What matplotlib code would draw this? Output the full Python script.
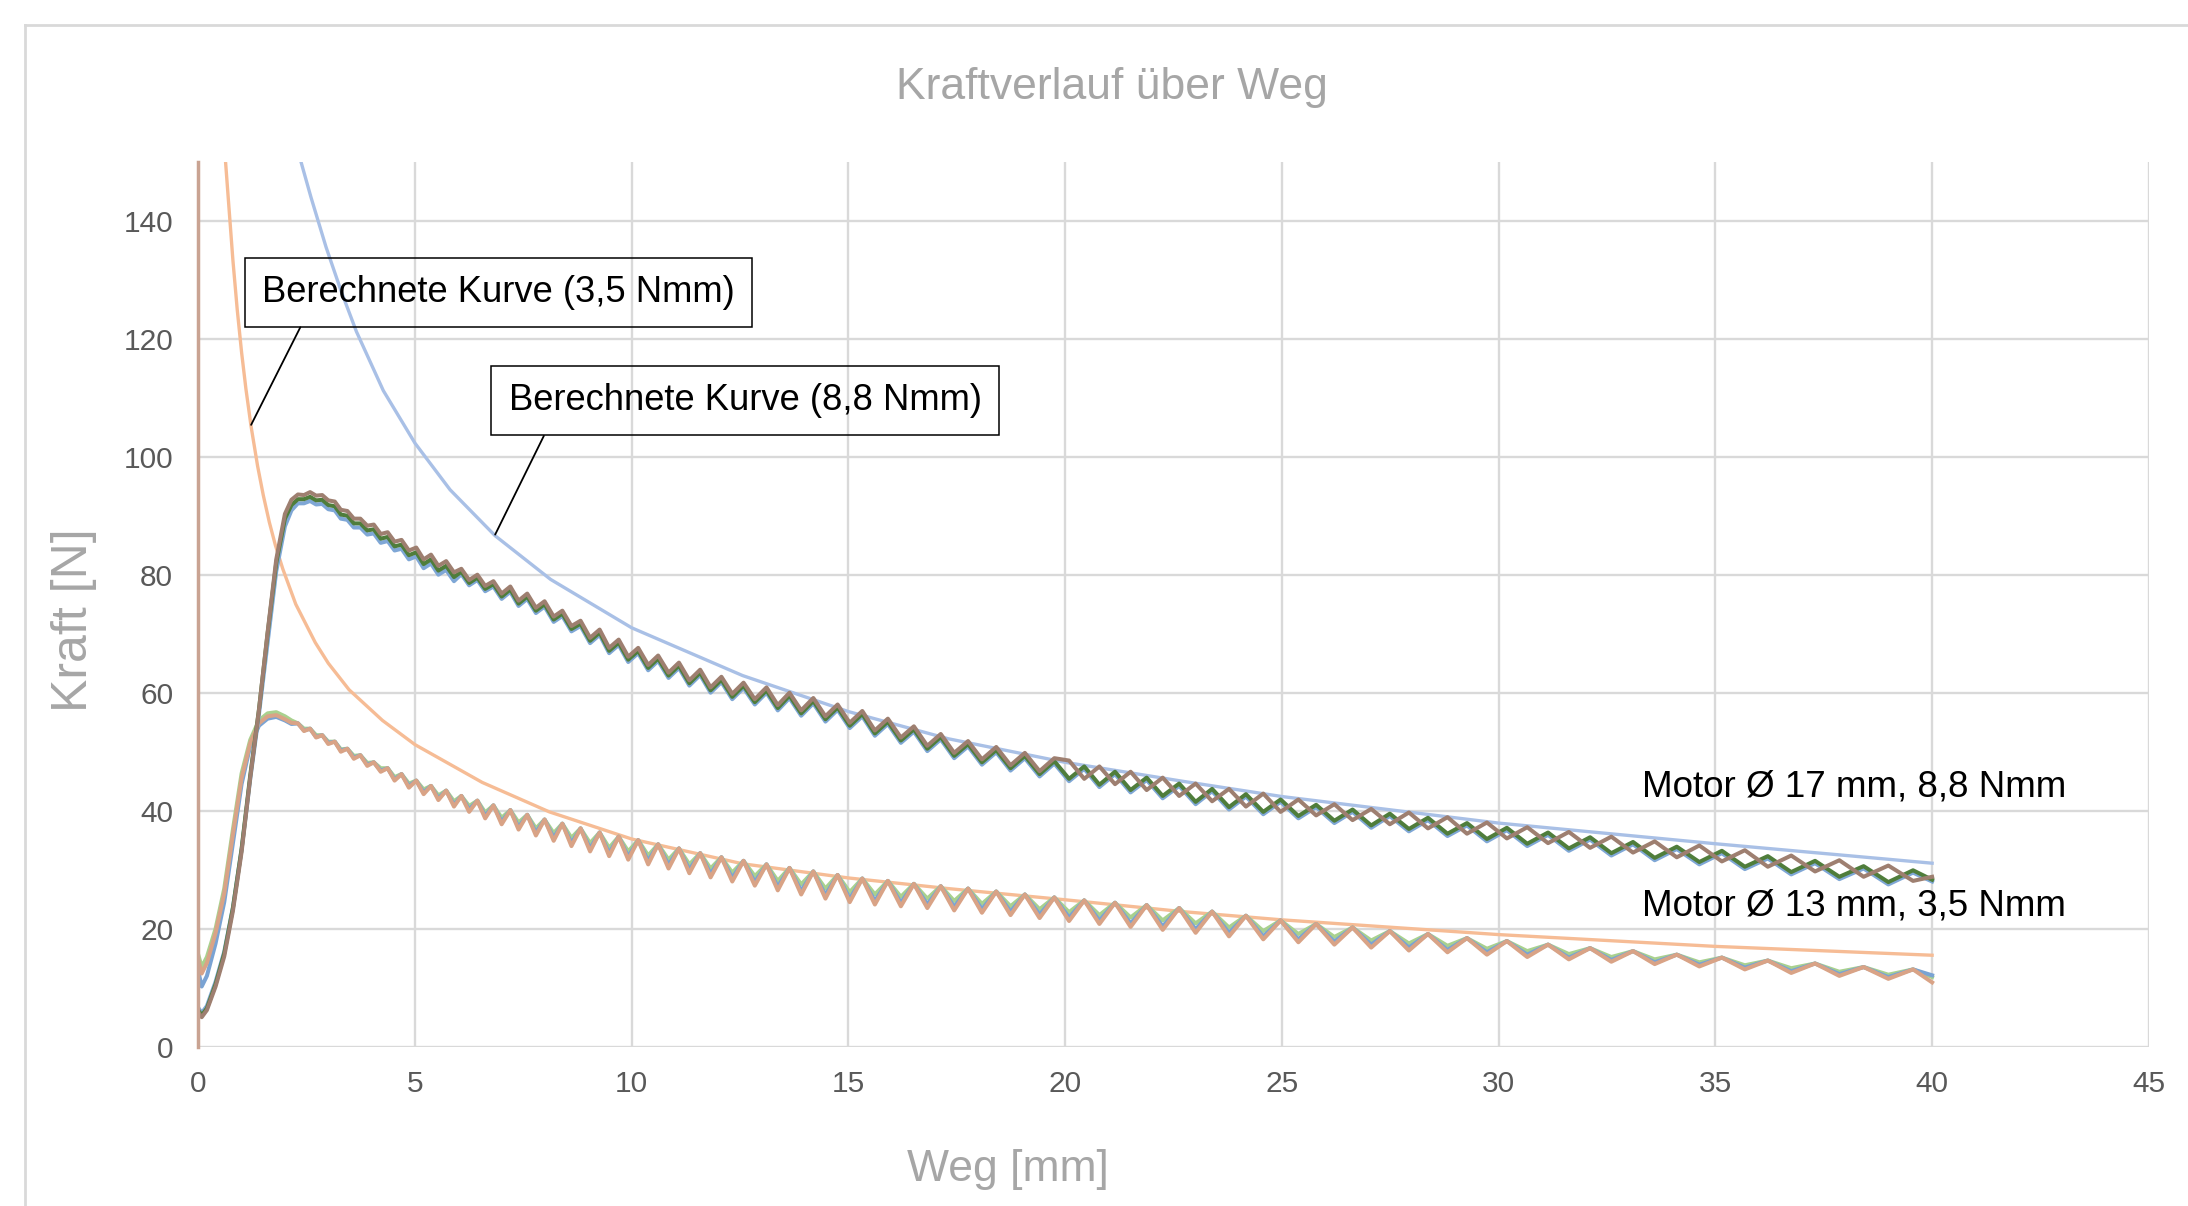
# Kraftverlauf über Weg - Messkurven zweier Motoren und berechnete Kurven
import numpy as np
import matplotlib
matplotlib.use("Agg")
import matplotlib.pyplot as plt
from matplotlib.lines import Line2D

plt.rcParams['font.family'] = ['Liberation Sans', 'DejaVu Sans']

# ---------------- Daten ----------------
x_ticks = [0, 5, 10, 15, 20, 25, 30, 35, 40, 45]
y_ticks = [0, 20, 40, 60, 80, 100, 120, 140]

# senkrechte Linie bei Weg 0
weg_achse = [0, 0]
kraft_achse = [0, 150]

# Berechnete Kurve (3,5 Nmm)
weg_ber_35 = [0.63, 0.7, 0.8, 0.9, 1.0, 1.1, 1.22, 1.37, 1.5, 1.64, 1.78, 1.95, 2.25,
              2.7, 3.0, 3.48, 4.25, 5.0, 6.55, 8.1, 10, 12.56, 15, 17.3, 20, 22.7,
              25, 30, 35, 40]
kraft_ber_35 = [150, 143.1, 133.3, 124.9, 117.7, 111.5, 105.1, 98.4, 93.5, 88.9, 85.0,
                81.0, 75.0, 68.5, 65.0, 60.5, 55.3, 51.2, 44.8, 39.8, 35.2, 31.0, 28.6,
                26.8, 24.9, 22.9, 21.5, 19.0, 17.0, 15.5]

# Berechnete Kurve (8,8 Nmm)
weg_ber_88 = [2.37, 2.6, 2.95, 3.3, 3.65, 4.27, 5.0, 5.81, 6.85, 8.13, 10, 12.56, 15,
              17.3, 20, 22.7, 25, 30, 35, 40]
kraft_ber_88 = [150, 144, 135.5, 128, 121.2, 111.2, 102.3, 94.4, 86.6, 79.2, 71.0, 62.9,
                56.8, 52.2, 48.2, 45.0, 42.4, 37.9, 34.4, 31.1]

# Anstieg der Messkurven (Weg 0 ... 2.15 mm)
weg_anstieg = [0, 0.08, 0.2, 0.4, 0.6, 0.8, 1.0, 1.2, 1.4, 1.6, 1.8, 2.0, 2.15]
m13_orange_anstieg = [14.8, 12.4, 14.2, 19.3, 26.0, 36.0, 45.5, 51.5, 54.8, 56.0, 56.2, 55.5, 54.9]
m13_blau_anstieg = [12.8, 10.2, 12.0, 17.5, 24.5, 34.5, 44.5, 51.0, 54.4, 55.6, 55.9, 55.3, 54.7]
m13_gruen_anstieg = [15.6, 13.5, 15.2, 20.0, 26.8, 36.8, 46.3, 52.0, 55.3, 56.5, 56.7, 56.0, 55.3]
m17_gruen_anstieg = [6.2, 5.3, 6.5, 10.6, 15.8, 23.5, 33.5, 46.0, 57.1, 70.0, 82.0, 89.5, 91.8]
m17_braun_anstieg = [5.8, 5.0, 6.2, 10.2, 15.3, 23.0, 33.0, 45.6, 57.0, 70.2, 82.6, 90.3, 92.7]
m17_blau_anstieg = [6.6, 5.7, 6.9, 11.0, 16.1, 23.6, 33.4, 45.4, 56.3, 68.5, 80.6, 88.2, 90.9]

# Welligkeit: Lage der Spitzen und der Taeler (letzter Wert = Kurvenende)
weg_spitze = [2.30, 2.58, 2.86, 3.15, 3.44, 3.74, 4.05, 4.37, 4.69, 5.03,
              5.37, 5.72, 6.07, 6.44, 6.81, 7.20, 7.59, 7.99, 8.40, 8.82,
              9.26, 9.70, 10.15, 10.61, 11.09, 11.58, 12.07, 12.58, 13.11, 13.64,
              14.19, 14.75, 15.32, 15.91, 16.51, 17.13, 17.76, 18.41, 19.07, 19.75,
              20.44, 21.15, 21.88, 22.63, 23.39, 24.17, 24.97, 25.79, 26.63, 27.49,
              28.37, 29.27, 30.19, 31.14, 32.11, 33.10, 34.11, 35.15, 36.21, 37.30,
              38.42, 39.56]
weg_tal = [2.44, 2.72, 3.00, 3.29, 3.59, 3.90, 4.21, 4.53, 4.86, 5.20,
           5.54, 5.90, 6.25, 6.62, 7.00, 7.39, 7.79, 8.20, 8.61, 9.04,
           9.48, 9.92, 10.38, 10.85, 11.33, 11.82, 12.32, 12.84, 13.37, 13.91,
           14.47, 15.03, 15.61, 16.21, 16.82, 17.44, 18.08, 18.74, 19.41, 20.09,
           20.79, 21.51, 22.25, 23.01, 23.78, 24.57, 25.38, 26.21, 27.06, 27.93,
           28.82, 29.73, 30.66, 31.62, 32.60, 33.60, 34.63, 35.68, 36.75, 37.86,
           38.99, 40.0]

# Motor Ø 13 mm, 3,5 Nmm
m13_spitze = [54.8, 53.9, 52.8, 51.7, 50.5, 49.4, 48.2, 47.2, 46.2, 45.1,
              44.2, 43.4, 42.5, 41.7, 40.9, 40.1, 39.3, 38.5, 37.8, 37.0,
              36.3, 35.6, 35.0, 34.3, 33.6, 32.8, 32.1, 31.5, 30.9, 30.3,
              29.7, 29.1, 28.5, 28.1, 27.6, 27.2, 26.8, 26.3, 25.8, 25.3,
              24.8, 24.4, 24.0, 23.5, 22.9, 22.2, 21.4, 20.8, 20.2, 19.6,
              19.1, 18.4, 17.9, 17.3, 16.7, 16.2, 15.6, 15.1, 14.6, 14.1,
              13.5, 13.1]
m13_orange_tal = [53.5, 52.4, 51.3, 50.0, 48.8, 47.6, 46.6, 45.1, 43.9, 42.8,
                  41.8, 40.7, 39.8, 38.7, 37.7, 36.8, 35.8, 34.9, 34.0, 33.1,
                  32.3, 31.7, 30.9, 30.2, 29.4, 28.7, 28.0, 27.3, 26.5, 25.8,
                  25.1, 24.5, 24.1, 23.8, 23.5, 23.1, 22.7, 22.3, 21.8, 21.3,
                  20.8, 20.3, 19.8, 19.3, 18.7, 18.2, 17.7, 17.3, 16.8, 16.3,
                  16.0, 15.6, 15.2, 14.8, 14.4, 14.0, 13.6, 13.1, 12.5, 12.0,
                  11.5, 10.9]
m13_gruen_tal = [53.9, 52.8, 51.7, 50.4, 49.3, 48.1, 47.2, 45.7, 44.6, 43.6,
                 42.6, 41.6, 40.8, 39.7, 38.8, 38.0, 37.0, 36.2, 35.4, 34.5,
                 33.7, 33.1, 32.4, 31.7, 30.9, 30.2, 29.5, 28.9, 28.1, 27.5,
                 26.8, 26.2, 25.8, 25.4, 25.1, 24.7, 24.2, 23.8, 23.3, 22.8,
                 22.3, 21.9, 21.4, 20.9, 20.2, 19.6, 19.1, 18.6, 18.0, 17.5,
                 17.1, 16.6, 16.2, 15.7, 15.2, 14.8, 14.3, 13.8, 13.3, 12.7,
                 12.2, 11.8]
m13_blau_tal = [53.6, 52.5, 51.5, 50.2, 49.0, 47.8, 46.8, 45.3, 44.2, 43.1,
                42.1, 41.0, 40.2, 39.1, 38.1, 37.2, 36.3, 35.4, 34.5, 33.6,
                32.8, 32.2, 31.5, 30.8, 30.0, 29.3, 28.6, 27.9, 27.1, 26.4,
                25.7, 25.1, 24.7, 24.4, 24.1, 23.7, 23.3, 22.9, 22.4, 21.9,
                21.4, 20.9, 20.4, 19.9, 19.3, 18.7, 18.2, 17.8, 17.3, 16.8,
                16.4, 16.0, 15.6, 15.1, 14.7, 14.3, 13.9, 13.4, 12.8, 12.3,
                11.8, 12.1]

# Motor Ø 17 mm, 8,8 Nmm (Werte an weg_spitze bzw. weg_tal)
m17_gruen_a = [92.8, 93.2, 92.7, 91.6, 90.0, 88.7, 87.7, 86.4, 85.1, 83.8,
               82.6, 81.5, 80.5, 79.5, 78.4, 77.5, 76.3, 75.0, 73.4, 71.7,
               70.2, 68.5, 67.1, 65.8, 64.6, 63.4, 62.2, 61.2, 60.4, 59.5,
               58.6, 57.5, 56.4, 55.1, 53.8, 52.5, 51.3, 50.3, 49.3, 48.4,
               47.5, 46.6, 45.6, 44.6, 43.7, 42.8, 41.9, 41.0, 40.2, 39.5,
               38.8, 37.9, 37.1, 36.3, 35.5, 34.7, 33.9, 33.2, 32.3, 31.5,
               30.6, 29.9]
m17_gruen_b = [92.8, 92.6, 91.8, 90.2, 88.7, 87.5, 86.1, 84.8, 83.3, 81.8,
               80.7, 79.6, 78.6, 77.6, 76.3, 75.1, 73.9, 72.4, 70.8, 68.8,
               67.1, 65.6, 64.2, 62.9, 61.6, 60.4, 59.3, 58.4, 57.4, 56.5,
               55.5, 54.4, 53.1, 51.9, 50.5, 49.3, 48.2, 47.2, 46.2, 45.4,
               44.4, 43.5, 42.5, 41.5, 40.6, 39.8, 39.1, 38.3, 37.5, 36.9,
               36.1, 35.2, 34.4, 33.6, 32.8, 32.0, 31.3, 30.5, 29.6, 28.8,
               27.9, 28.3]
m17_braun_a = [93.6, 94.0, 93.5, 92.4, 90.8, 89.5, 88.5, 87.2, 85.9, 84.6,
               83.4, 82.3, 81.0, 80.0, 78.9, 78.0, 76.8, 75.5, 73.9, 72.2,
               70.7, 69.0, 67.6, 66.3, 65.1, 63.9, 62.7, 61.7, 60.9, 60.0,
               59.1, 58.0, 56.9, 55.6, 54.3, 53.0, 51.8, 50.8, 49.8, 48.9,
               45.4, 44.5, 43.5, 42.5, 41.6, 40.7, 39.8, 39.2, 38.4, 37.7,
               37.0, 36.1, 35.3, 34.5, 33.7, 32.9, 32.1, 31.4, 30.5, 29.7,
               28.8, 28.1]
m17_braun_b = [93.5, 93.4, 92.6, 91.0, 89.5, 88.3, 86.9, 85.6, 84.1, 82.6,
               81.5, 80.4, 79.1, 78.1, 76.8, 75.6, 74.4, 72.9, 71.3, 69.3,
               67.6, 66.1, 64.7, 63.4, 62.1, 60.9, 59.8, 58.9, 57.9, 57.0,
               56.0, 54.9, 53.6, 52.4, 51.0, 49.8, 48.7, 47.7, 46.7, 48.5,
               47.5, 46.6, 45.6, 44.6, 43.7, 42.9, 41.9, 41.1, 40.3, 39.7,
               38.9, 38.0, 37.2, 36.4, 35.6, 34.8, 34.1, 33.3, 32.4, 31.6,
               30.7, 28.8]
m17_blau_a = [92.1, 92.5, 92.0, 90.9, 89.3, 88.0, 87.0, 85.7, 84.4, 83.1,
              81.9, 80.8, 80.1, 79.1, 78.0, 77.1, 75.9, 74.6, 73.0, 71.3,
              69.8, 68.1, 66.7, 65.4, 64.2, 63.0, 61.8, 60.8, 60.0, 59.1,
              58.2, 57.1, 56.0, 54.7, 53.4, 52.1, 50.9, 49.9, 48.9, 48.0,
              47.1, 46.2, 45.2, 44.2, 43.3, 42.4, 41.5, 40.6, 39.8, 39.1,
              38.4, 37.5, 36.7, 35.9, 35.1, 34.3, 33.5, 32.8, 31.9, 31.1,
              30.2, 29.5]
m17_blau_b = [92.1, 91.9, 91.1, 89.5, 88.0, 86.8, 85.4, 84.1, 82.6, 81.1,
              80.0, 78.9, 78.2, 77.2, 75.9, 74.7, 73.5, 72.0, 70.4, 68.4,
              66.7, 65.2, 63.8, 62.5, 61.2, 60.0, 58.9, 58.0, 57.0, 56.1,
              55.1, 54.0, 52.7, 51.5, 50.1, 48.9, 47.8, 46.8, 45.8, 45.0,
              44.0, 43.1, 42.1, 41.1, 40.2, 39.4, 38.7, 37.9, 37.1, 36.5,
              35.7, 34.8, 34.0, 33.2, 32.4, 31.6, 30.9, 30.1, 29.2, 28.4,
              27.5, 28.0]


def kurve(anstieg, werte_spitze, werte_tal):
    """Setzt Anstieg und abwechselnd Spitzen-/Talwerte zu einer Linie zusammen."""
    x = np.concatenate([weg_anstieg, np.column_stack([weg_spitze, weg_tal]).ravel()])
    y = np.concatenate([anstieg, np.column_stack([werte_spitze, werte_tal]).ravel()])
    return x, y


# ---------------- Grafik ----------------
fig = plt.figure(figsize=(21.88, 12.06), dpi=100)
ax = fig.add_axes([0.0906, 0.1321, 0.8915, 0.7338])

ax.set_xlim(0, 45)
ax.set_ylim(0, 150)
ax.set_xticks(x_ticks)
ax.set_yticks(y_ticks)
ax.grid(True, color='#d9d9d9', lw=1.7)
ax.set_axisbelow(True)
for s in ax.spines.values():
    s.set_visible(False)
ax.tick_params(axis='both', length=0, labelsize=21.5, labelcolor='#595959')
ax.tick_params(axis='x', pad=17)
ax.tick_params(axis='y', pad=18)

# berechnete Kurven
ax.plot(weg_ber_35, kraft_ber_35, color='#f6bc95', lw=2.4, zorder=2)
ax.plot(weg_ber_88, kraft_ber_88, color='#a9c0e6', lw=2.4, zorder=2)

# Motor 13 mm
for anstieg, tal, farbe in [(m13_gruen_anstieg, m13_gruen_tal, '#a9d18e'),
                            (m13_blau_anstieg, m13_blau_tal, '#7aa3d3'),
                            (m13_orange_anstieg, m13_orange_tal, '#d9a386')]:
    x, y = kurve(anstieg, m13_spitze, tal)
    ax.plot(x, y, color=farbe, lw=2.9, zorder=3, solid_joinstyle='round')

# Motor 17 mm
for anstieg, a, b, farbe in [(m17_blau_anstieg, m17_blau_a, m17_blau_b, '#7fa7d6'),
                             (m17_gruen_anstieg, m17_gruen_a, m17_gruen_b, '#4f7d3b'),
                             (m17_braun_anstieg, m17_braun_a, m17_braun_b, '#9e7f70')]:
    x, y = kurve(anstieg, a, b)
    ax.plot(x, y, color=farbe, lw=2.9, zorder=3, solid_joinstyle='round')

ax.plot(weg_achse, kraft_achse, color='#c9a392', lw=2.5, zorder=3, clip_on=False)

# Beschriftungen
box = dict(boxstyle='square,pad=0.47', fc='none', ec='black', lw=1.1)
ax.annotate('Berechnete Kurve (3,5 Nmm)', xy=(1.22, 105.4), xytext=(1.47, 127.9),
            ha='left', va='center', fontsize=26.2, bbox=box, zorder=6,
            arrowprops=dict(arrowstyle='-', color='black', lw=1.3,
                            shrinkA=0, shrinkB=0, relpos=(0.1, 0)))
ax.annotate('Berechnete Kurve (8,8 Nmm)', xy=(6.85, 86.8), xytext=(7.16, 109.5),
            ha='left', va='center', fontsize=26.2, bbox=box, zorder=6,
            arrowprops=dict(arrowstyle='-', color='black', lw=1.3,
                            shrinkA=0, shrinkB=0, relpos=(0.093, 0)))
ax.text(33.3, 44.0, 'Motor Ø 17 mm, 8,8 Nmm', fontsize=26.5, va='center', zorder=6)
ax.text(33.3, 23.9, 'Motor Ø 13 mm, 3,5 Nmm', fontsize=26.5, va='center', zorder=6)

fig.text(1112 / 2188, 1 - 88 / 1206, 'Kraftverlauf über Weg', ha='center', va='center',
         fontsize=32, color='#a6a6a6')
fig.text(1008 / 2188, 1 - 1170 / 1206, 'Weg [mm]', ha='center', va='center',
         fontsize=32, color='#a6a6a6')
fig.text(74 / 2188, 1 - 620 / 1206, 'Kraft [N]', ha='center', va='center', rotation=90,
         fontsize=36, color='#a6a6a6')

# Rahmen des Diagramms
rahmen_x = 25 / 2188
rahmen_y = 1 - 25 / 1206
fig.add_artist(Line2D([rahmen_x, 1], [rahmen_y, rahmen_y], color='#d9d9d9', lw=2,
                      transform=fig.transFigure))
fig.add_artist(Line2D([rahmen_x, rahmen_x], [0, rahmen_y], color='#d9d9d9', lw=2,
                      transform=fig.transFigure))

fig.savefig('out.png', dpi=100)
